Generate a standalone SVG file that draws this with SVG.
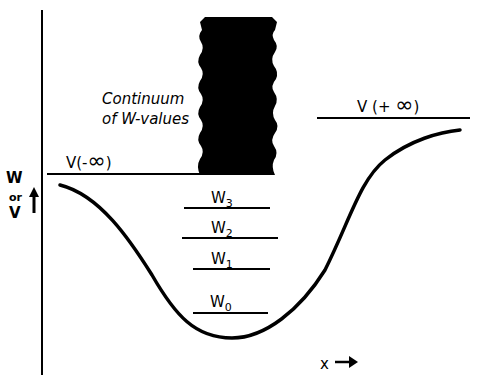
<svg xmlns="http://www.w3.org/2000/svg" width="485" height="375" viewBox="0 0 485 375">
<style>
.t{font-family:"DejaVu Sans","Liberation Sans",sans-serif;fill:#000}
.ln{stroke:#000;stroke-width:2;fill:none}
.lv{stroke:#000;stroke-width:1.8;fill:none}
</style>
<rect width="485" height="375" fill="#fff"/>
<g id="axes">
<line class="ln" x1="42" y1="10" x2="42" y2="375" stroke-width="2.5"/>
</g>
<g id="ylabel">
<text class="t" x="6" y="183" font-size="15" font-weight="bold">W</text>
<text class="t" x="9" y="201" font-size="11" font-weight="bold">or</text>
<text class="t" x="9" y="218" font-size="15" font-weight="bold">V</text>
<line x1="34" y1="213" x2="34" y2="195" stroke="#000" stroke-width="3"/>
<polygon points="29,197 34,187 39,197" fill="#000"/>
</g>
<g id="vminus">
<line class="ln" x1="47" y1="174" x2="202" y2="174"/>
<text class="t" x="66" y="168" font-size="15">V(-<tspan font-size="22">∞</tspan>)</text>
</g>
<g id="vplus">
<line class="ln" x1="317" y1="118" x2="470" y2="118"/>
<text class="t" x="357" y="112" font-size="15">V (+ <tspan font-size="22">∞</tspan>)</text>
</g>
<g id="continuum">
<path fill="#000" d="M200,175 L275,175 Q271,167 274,160 Q279,153 274,146 Q270,140 275,133 Q280,126 275,120 Q271,113 275,106 Q279,99 274,92 Q270,86 276,79 Q279,72 274,66 Q270,59 275,52 Q279,46 274,40 Q271,34 275,30 L277,22 L272,17 L205,17 L200,22 L202,30 Q197,36 201,42 Q205,48 200,55 Q196,62 201,68 Q205,74 200,81 Q196,88 201,94 Q205,100 200,107 Q196,114 201,120 Q205,126 200,133 Q196,140 201,146 Q205,152 200,159 Q196,166 200,175 Z"/>
<text class="t" x="102" y="104" font-size="15" font-style="italic">Continuum</text>
<text class="t" x="102" y="124" font-size="15" font-style="italic">of W-values</text>
</g>
<g id="curve">
<path d="M60,185 C100,195 130,240 152,275 C175,315 195,338 232,338 C265,338 300,310 325,270 C350,220 360,180 385,160 C410,140 440,132 460,130" fill="none" stroke="#000" stroke-width="3.5" stroke-linecap="round"/>
</g>
<g id="w3">
<line class="lv" x1="184" y1="208" x2="270" y2="208"/>
<text class="t" x="211" y="203" font-size="15">W<tspan font-size="11" dy="4">3</tspan></text>
</g>
<g id="w2">
<line class="lv" x1="182" y1="238" x2="278" y2="238"/>
<text class="t" x="211" y="233" font-size="15">W<tspan font-size="11" dy="4">2</tspan></text>
</g>
<g id="w1">
<line class="lv" x1="193" y1="269" x2="270" y2="269"/>
<text class="t" x="211" y="264" font-size="15">W<tspan font-size="11" dy="4">1</tspan></text>
</g>
<g id="w0">
<line class="lv" x1="193" y1="313" x2="268" y2="313"/>
<text class="t" x="210" y="307" font-size="15">W<tspan font-size="11" dy="4">0</tspan></text>
</g>
<g id="xlabel">
<text class="t" x="320" y="369" font-size="15">x</text>
<line x1="335" y1="362" x2="352" y2="362" stroke="#000" stroke-width="2.5"/>
<polygon points="349,356 358,362 349,368" fill="#000"/>
</g>
</svg>
